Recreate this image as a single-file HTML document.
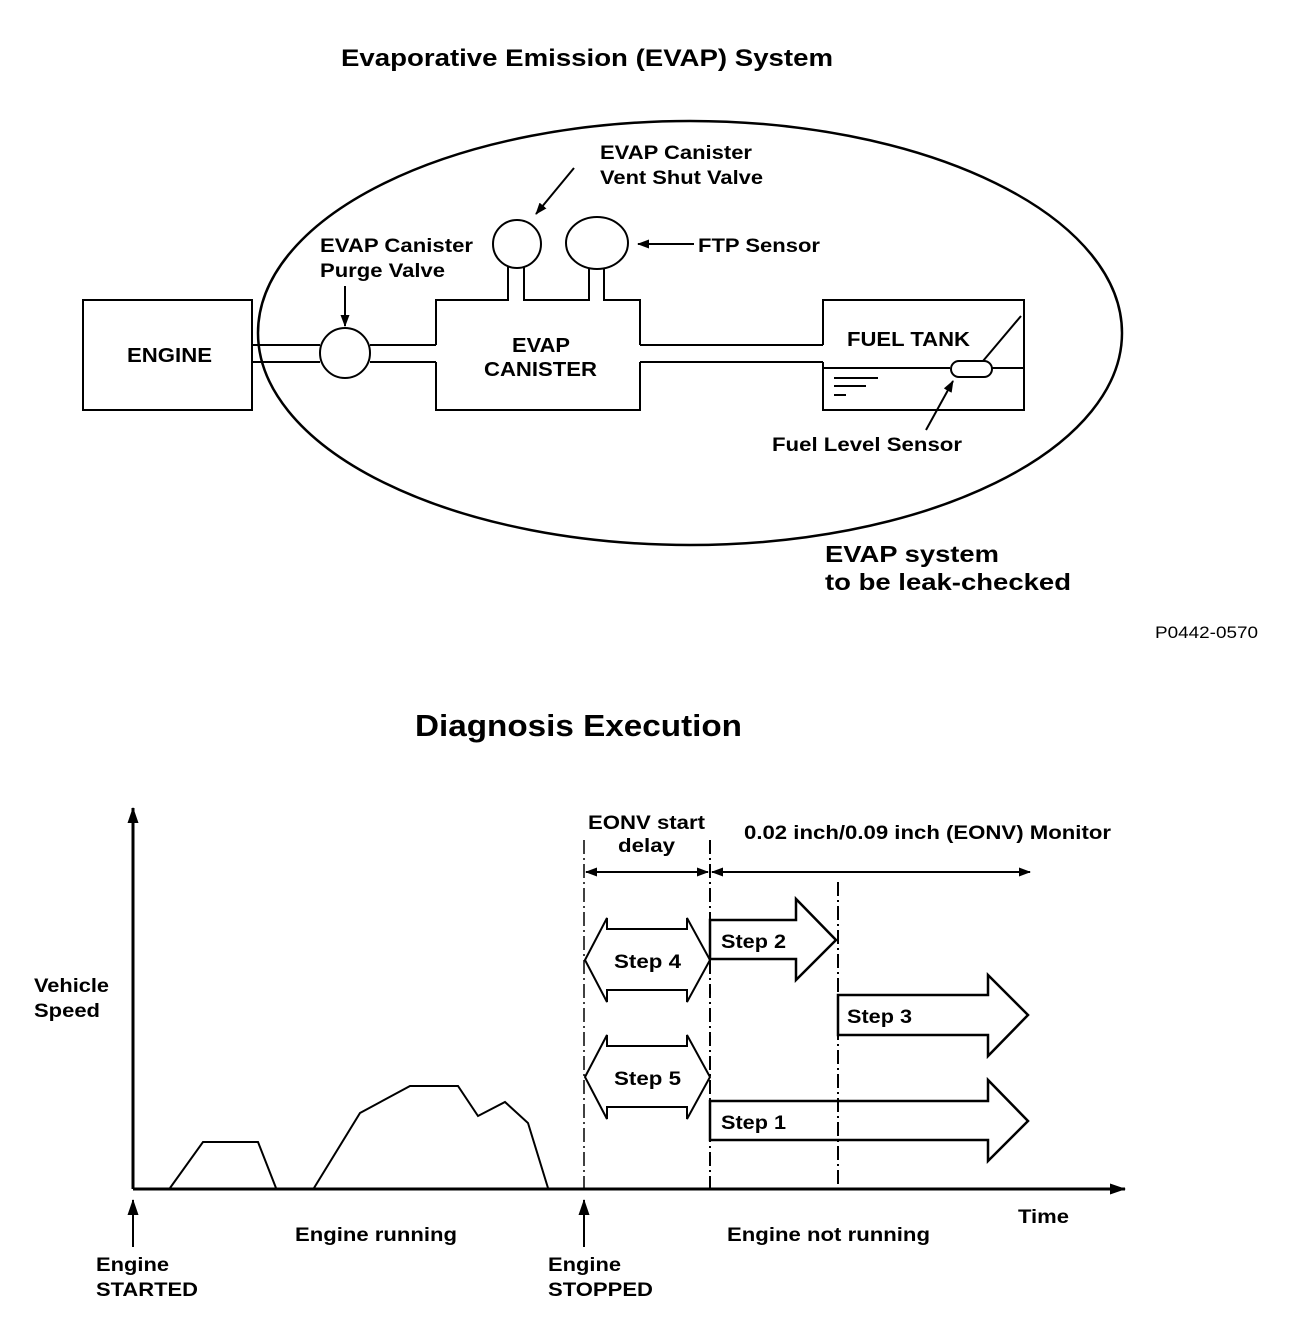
<!DOCTYPE html>
<html><head><meta charset="utf-8"><style>
html,body{margin:0;padding:0;background:#fff;}
svg{display:block;}
text{font-family:"Liberation Sans",Arial,sans-serif;font-weight:bold;fill:#000;}
</style></head><body>
<svg width="1312" height="1324" viewBox="0 0 1312 1324" xmlns="http://www.w3.org/2000/svg">
<defs>
<marker id="ah" markerWidth="12" markerHeight="9" refX="11" refY="4.5" orient="auto" markerUnits="userSpaceOnUse"><path d="M0,0 L12,4.5 L0,9 Z" fill="#000"/></marker>
<marker id="ah2" markerWidth="16" markerHeight="11" refX="15" refY="5.5" orient="auto" markerUnits="userSpaceOnUse"><path d="M0,0 L16,5.5 L0,11 Z" fill="#000"/></marker>
</defs>
<g fill="none" stroke="#000" stroke-width="2">
<ellipse cx="690" cy="333" rx="432" ry="212" stroke-width="2.5"/>
<rect x="83" y="300" width="169" height="110" fill="#fff"/>
<line x1="252" y1="345" x2="320" y2="345"/><line x1="252" y1="362" x2="320" y2="362"/>
<circle cx="345" cy="353" r="25"/>
<line x1="370" y1="345" x2="436" y2="345"/><line x1="370" y1="362" x2="436" y2="362"/>
<path d="M436,345 V300 H508 V267 M524,267 V300 H589 V269 M604,269 V300 H640 V345 M640,362 V410 H436 V362"/>
<circle cx="517" cy="244" r="24"/>
<ellipse cx="597" cy="243" rx="31" ry="26"/>
<line x1="640" y1="345" x2="823" y2="345"/><line x1="640" y1="362" x2="823" y2="362"/>
<path d="M823,345 V300 H1024 V410 H823 V362"/>
<line x1="823" y1="368" x2="950" y2="368"/><line x1="992" y1="368" x2="1024" y2="368"/>
<rect x="951" y="361" width="41" height="16" rx="8"/>
<line x1="983" y1="361" x2="1021" y2="316"/>
<line x1="834" y1="378" x2="878" y2="378"/><line x1="834" y1="386" x2="866" y2="386"/><line x1="834" y1="395" x2="846" y2="395"/>
<line x1="574" y1="168" x2="536" y2="214" marker-end="url(#ah)"/>
<line x1="694" y1="244" x2="638" y2="244" marker-end="url(#ah)"/>
<line x1="345" y1="286" x2="345" y2="326" marker-end="url(#ah)"/>
<line x1="926" y1="430" x2="953" y2="381" marker-end="url(#ah)"/>
</g>
<text x="341" y="66" font-size="24" textLength="492" lengthAdjust="spacingAndGlyphs">Evaporative Emission (EVAP) System</text>
<text x="127" y="362" font-size="20" textLength="85" lengthAdjust="spacingAndGlyphs">ENGINE</text>
<text x="512" y="352" font-size="20" textLength="58" lengthAdjust="spacingAndGlyphs">EVAP</text>
<text x="484" y="376" font-size="20" textLength="113" lengthAdjust="spacingAndGlyphs">CANISTER</text>
<text x="847" y="346" font-size="20" textLength="123" lengthAdjust="spacingAndGlyphs">FUEL TANK</text>
<text x="600" y="159" font-size="19" textLength="152" lengthAdjust="spacingAndGlyphs">EVAP Canister</text>
<text x="600" y="184" font-size="19" textLength="163" lengthAdjust="spacingAndGlyphs">Vent Shut Valve</text>
<text x="698" y="252" font-size="19" textLength="122" lengthAdjust="spacingAndGlyphs">FTP Sensor</text>
<text x="320" y="252" font-size="19" textLength="153" lengthAdjust="spacingAndGlyphs">EVAP Canister</text>
<text x="320" y="277" font-size="19" textLength="125" lengthAdjust="spacingAndGlyphs">Purge Valve</text>
<text x="772" y="451" font-size="19" textLength="190" lengthAdjust="spacingAndGlyphs">Fuel Level Sensor</text>
<text x="825" y="562" font-size="23" textLength="174" lengthAdjust="spacingAndGlyphs">EVAP system</text>
<text x="825" y="590" font-size="23" textLength="246" lengthAdjust="spacingAndGlyphs">to be leak-checked</text>
<text x="1155" y="638" font-size="17" style="font-weight:normal" textLength="103" lengthAdjust="spacingAndGlyphs">P0442-0570</text>

<text x="415" y="736" font-size="31" textLength="327" lengthAdjust="spacingAndGlyphs">Diagnosis Execution</text>
<g fill="none" stroke="#000" stroke-width="2">
<line x1="133" y1="1189" x2="133" y2="808" stroke-width="3" marker-end="url(#ah2)"/>
<line x1="133" y1="1189" x2="1125" y2="1189" stroke-width="3" marker-end="url(#ah2)"/>
<polyline points="170,1188 203,1142 258,1142 276,1188"/>
<polyline points="314,1188 360,1113 410,1086 458,1086 478,1116 505,1102 528,1123 548,1188"/>
<line x1="584" y1="840" x2="584" y2="1188" stroke-width="1.5" stroke-dasharray="14,4,2,4"/>
<line x1="710" y1="840" x2="710" y2="1188" stroke-dasharray="14,4,2,4"/>
<line x1="838" y1="882" x2="838" y2="1188" stroke-dasharray="14,4,2,4"/>
<line x1="598" y1="872" x2="586" y2="872" marker-end="url(#ah)"/>
<line x1="598" y1="872" x2="708" y2="872" marker-end="url(#ah)"/>
<line x1="724" y1="872" x2="712" y2="872" marker-end="url(#ah)"/>
<line x1="720" y1="872" x2="1030" y2="872" marker-end="url(#ah)"/>
<polygon points="585,960 607,918 607,929 687,929 687,918 710,960 687,1002 687,990 607,990 607,1002"/>
<polygon points="585,1077 607,1035 607,1046 687,1046 687,1035 710,1077 687,1119 687,1107 607,1107 607,1119"/>
<polygon points="710,920 796,920 796,899 836,940 796,980 796,959 710,959" stroke-width="2.5"/>
<polygon points="838,995 988,995 988,975 1028,1015 988,1056 988,1035 838,1035" stroke-width="2.5"/>
<polygon points="710,1101 988,1101 988,1080 1028,1121 988,1161 988,1140 710,1140" stroke-width="2.5"/>
<line x1="133" y1="1247" x2="133" y2="1200" marker-end="url(#ah2)"/>
<line x1="584" y1="1247" x2="584" y2="1200" marker-end="url(#ah2)"/>
</g>
<text x="588" y="829" font-size="19" textLength="117" lengthAdjust="spacingAndGlyphs">EONV start</text>
<text x="618" y="852" font-size="19" textLength="57" lengthAdjust="spacingAndGlyphs">delay</text>
<text x="744" y="839" font-size="19" textLength="367" lengthAdjust="spacingAndGlyphs">0.02 inch/0.09 inch (EONV) Monitor</text>
<text x="614" y="968" font-size="19" textLength="67" lengthAdjust="spacingAndGlyphs">Step 4</text>
<text x="614" y="1085" font-size="19" textLength="67" lengthAdjust="spacingAndGlyphs">Step 5</text>
<text x="721" y="948" font-size="19" textLength="65" lengthAdjust="spacingAndGlyphs">Step 2</text>
<text x="847" y="1023" font-size="19" textLength="65" lengthAdjust="spacingAndGlyphs">Step 3</text>
<text x="721" y="1129" font-size="19" textLength="65" lengthAdjust="spacingAndGlyphs">Step 1</text>
<text x="34" y="992" font-size="19" textLength="75" lengthAdjust="spacingAndGlyphs">Vehicle</text>
<text x="34" y="1017" font-size="19" textLength="66" lengthAdjust="spacingAndGlyphs">Speed</text>
<text x="1018" y="1223" font-size="19" textLength="51" lengthAdjust="spacingAndGlyphs">Time</text>
<text x="295" y="1241" font-size="19" textLength="162" lengthAdjust="spacingAndGlyphs">Engine running</text>
<text x="727" y="1241" font-size="19" textLength="203" lengthAdjust="spacingAndGlyphs">Engine not running</text>
<text x="96" y="1271" font-size="19" textLength="73" lengthAdjust="spacingAndGlyphs">Engine</text>
<text x="96" y="1296" font-size="19" textLength="102" lengthAdjust="spacingAndGlyphs">STARTED</text>
<text x="548" y="1271" font-size="19" textLength="73" lengthAdjust="spacingAndGlyphs">Engine</text>
<text x="548" y="1296" font-size="19" textLength="105" lengthAdjust="spacingAndGlyphs">STOPPED</text>
</svg>
</body></html>
